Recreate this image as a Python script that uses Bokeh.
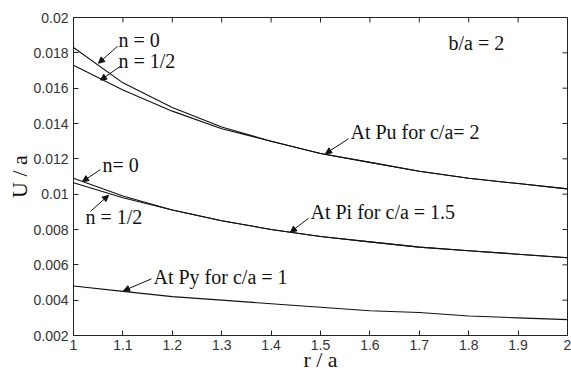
import math
from bokeh.plotting import figure
from bokeh.models import (Range1d, FixedTicker, CustomJSTickFormatter,
                          Label, Arrow, NormalHead, ColumnDataSource)
from bokeh.embed import file_html
from bokeh.resources import INLINE

# ---- data ----
r = [1.0, 1.1, 1.2, 1.3, 1.4, 1.5, 1.6, 1.7, 1.8, 1.9, 2.0]
pu_n0 = [0.0183, 0.0163, 0.0149, 0.0138, 0.0130, 0.0123, 0.0118, 0.0113, 0.0109, 0.0106, 0.0103]
pu_nhalf = [0.0173, 0.0159, 0.0147, 0.0137, 0.0130, 0.0123, 0.0118, 0.0113, 0.0109, 0.0106, 0.0103]
pi_n0 = [0.0109, 0.0099, 0.0091, 0.0085, 0.0080, 0.0076, 0.0073, 0.0070, 0.0068, 0.0066, 0.0064]
pi_nhalf = [0.01065, 0.0098, 0.0091, 0.0085, 0.0080, 0.0076, 0.0073, 0.0070, 0.0068, 0.0066, 0.0064]
py_vals = [0.0048, 0.0045, 0.0042, 0.0040, 0.0038, 0.0036, 0.0034, 0.0033, 0.0031, 0.0030, 0.0029]

x_ticks = [1.0, 1.1, 1.2, 1.3, 1.4, 1.5, 1.6, 1.7, 1.8, 1.9, 2.0]
y_ticks = [0.002, 0.004, 0.006, 0.008, 0.010, 0.012, 0.014, 0.016, 0.018, 0.020]

XMIN, XMAX = 1.0, 2.0
YMIN, YMAX = 0.002, 0.02

W, H = 571, 374
ML, MR, MT, MB = 73, 4, 17, 37

# frame position (pixels) used to place annotations in data space
REF_L, REF_R, REF_T, REF_B = ML, W - MR, MT, H - MB


def dx(px):
    return XMIN + (px - REF_L) / (REF_R - REF_L) * (XMAX - XMIN)


def dy(py):
    return YMAX - (py - REF_T) / (REF_B - REF_T) * (YMAX - YMIN)


p = figure(width=W, height=H, output_backend="svg", toolbar_location=None,
           x_range=Range1d(XMIN, XMAX), y_range=Range1d(YMIN, YMAX),
           min_border_left=ML, min_border_right=MR, min_border_top=MT,
           min_border_bottom=MB, background_fill_color="white",
           border_fill_color="white")
p.grid.visible = False
p.outline_line_color = "#222222"
p.outline_line_width = 1

fmt = CustomJSTickFormatter(code="return String(parseFloat(tick.toFixed(4)));")

for ax, ticks in ((p.xaxis[0], x_ticks), (p.yaxis[0], y_ticks)):
    ax.ticker = FixedTicker(ticks=ticks)
    ax.formatter = fmt
    ax.major_tick_in = 5
    ax.major_tick_out = 0
    ax.minor_tick_in = 0
    ax.minor_tick_out = 0
    ax.axis_line_color = "#222222"
    ax.major_tick_line_color = "#222222"
    ax.major_label_text_font = "Liberation Sans"
    ax.major_label_text_font_size = "14px"
    ax.major_label_text_color = "#333333"
    ax.axis_label_text_font = "Liberation Serif"
    ax.axis_label_text_font_style = "normal"
    ax.axis_label_text_color = "#111111"

p.xaxis.axis_label = "r / a"
p.xaxis.axis_label_text_font_size = "22px"
p.xaxis.major_label_standoff = 4
p.xaxis.axis_label_standoff = -6

p.yaxis.axis_label = "U / a"
p.yaxis.axis_label_text_font_size = "22px"
p.yaxis.major_label_standoff = 5
p.yaxis.axis_label_standoff = -2

# inward ticks on top and right edges of the box
p.ray(x=x_ticks, y=[YMAX] * len(x_ticks), length=5, length_units="screen",
      angle=-math.pi / 2, line_color="#222222", line_width=1)
p.ray(x=[XMAX] * len(y_ticks), y=y_ticks, length=5, length_units="screen",
      angle=math.pi, line_color="#222222", line_width=1)

src = ColumnDataSource(dict(r=r, pu0=pu_n0, puh=pu_nhalf, pi0=pi_n0, pih=pi_nhalf, py=py_vals))
for col in ("pu0", "puh", "pi0", "pih", "py"):
    p.line("r", col, source=src, line_color="#111111", line_width=1.1)

serif = "Liberation Serif"
FS = "20px"


def add_text(txt, px, py, size=FS):
    p.add_layout(Label(x=dx(px), y=dy(py), text=txt, text_font=serif,
                       text_font_size=size, text_color="#111111",
                       text_baseline="middle", text_align="left"))


def add_arrow(x0, y0, x1, y1):
    p.add_layout(Arrow(end=NormalHead(size=6, fill_color="#111111",
                                      line_color="#111111", line_width=1),
                       x_start=dx(x0), y_start=dy(y0), x_end=dx(x1), y_end=dy(y1),
                       line_color="#111111", line_width=1))


add_text("n = 0", 118, 40)
add_arrow(117, 46, 98, 63)
add_text("n = 1/2", 118, 61)
add_arrow(120, 66, 100, 80)
add_text("n= 0", 102, 165)
add_arrow(100, 170, 82, 182)
add_text("n = 1/2", 85, 218)
add_arrow(90, 212, 108, 196)
add_text("At Py for c/a = 1", 153, 278)
add_arrow(151, 280, 123, 292)
add_text("At Pi for c/a = 1.5", 310, 213)
add_arrow(308, 219, 290, 233)
add_text("At Pu for c/a= 2", 350, 132)
add_arrow(348, 139, 325, 154)
add_text("b/a = 2", 448, 43)

open("out.html", "w").write(file_html(p, INLINE))
